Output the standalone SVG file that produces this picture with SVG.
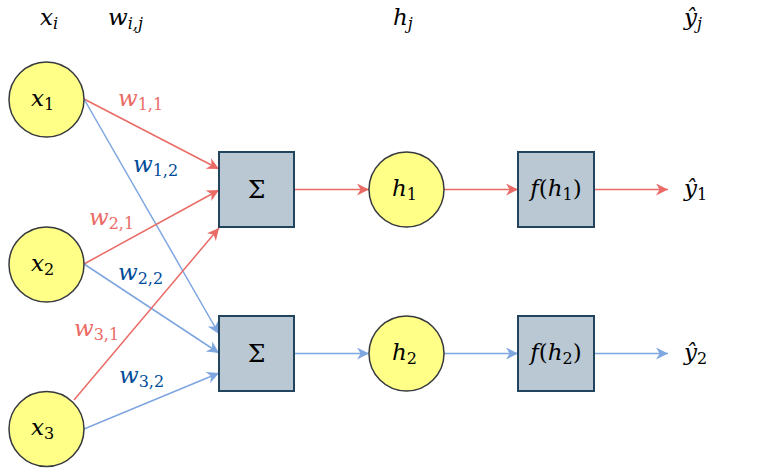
<svg xmlns="http://www.w3.org/2000/svg" width="777" height="469" viewBox="0 0 777 469">
<style>
.node{fill:#ffff88;stroke:#36393d;stroke-width:1.5}
.box{fill:#bac8d3;stroke:#23445d;stroke-width:2}
.r{stroke:#ea6b66;stroke-width:1.5;fill:none}
.b{stroke:#7ea6e0;stroke-width:1.5;fill:none}
</style>
<defs>
<marker id="ar" viewBox="0 0 10 10" refX="10" refY="5" markerWidth="12" markerHeight="12" markerUnits="userSpaceOnUse" orient="auto"><path d="M0,0 L10,5 L0,10 L3,5 Z" fill="#ea6b66"/></marker>
<marker id="ab" viewBox="0 0 10 10" refX="10" refY="5" markerWidth="12" markerHeight="12" markerUnits="userSpaceOnUse" orient="auto"><path d="M0,0 L10,5 L0,10 L3,5 Z" fill="#7ea6e0"/></marker>
</defs>

<g font-family="DejaVu Serif, serif" font-size="23">
<g id="headers">
<text x="40" y="25"><tspan font-style="italic">x</tspan><tspan font-size="16" font-style="italic" dy="4">i</tspan></text>
<text x="108" y="25"><tspan font-style="italic">w</tspan><tspan font-size="16" font-style="italic" dy="4">i,j</tspan></text>
<text x="393" y="25"><tspan font-style="italic">h</tspan><tspan font-size="16" font-style="italic" dy="4">j</tspan></text>
<text x="684" y="25"><tspan font-style="italic">ŷ</tspan><tspan font-size="16" font-style="italic" dy="4">j</tspan></text>
</g>

<g id="connectors">
<line class="r" x1="84" y1="99" x2="219" y2="169" marker-end="url(#ar)"/>
<line class="b" x1="84" y1="99" x2="219" y2="334" marker-end="url(#ab)"/>
<line class="r" x1="84" y1="264" x2="219" y2="190" marker-end="url(#ar)"/>
<line class="b" x1="84" y1="264" x2="219" y2="353" marker-end="url(#ab)"/>
<line class="r" x1="74" y1="400" x2="219" y2="228" marker-end="url(#ar)"/>
<line class="b" x1="84" y1="429" x2="219" y2="373" marker-end="url(#ab)"/>
<line class="r" x1="294" y1="189.5" x2="369" y2="189.5" marker-end="url(#ar)"/>
<line class="r" x1="444" y1="189.5" x2="518" y2="189.5" marker-end="url(#ar)"/>
<line class="r" x1="594" y1="189.5" x2="668" y2="189.5" marker-end="url(#ar)"/>
<line class="b" x1="294" y1="353.5" x2="369" y2="353.5" marker-end="url(#ab)"/>
<line class="b" x1="444" y1="353.5" x2="518" y2="353.5" marker-end="url(#ab)"/>
<line class="b" x1="594" y1="353.5" x2="668" y2="353.5" marker-end="url(#ab)"/>
<text fill="#ea6b66" x="118" y="106"><tspan font-style="italic">w</tspan><tspan font-size="16" dy="4">1,1</tspan></text>
<text fill="#004c99" x="133" y="172"><tspan font-style="italic">w</tspan><tspan font-size="16" dy="4">1,2</tspan></text>
<text fill="#ea6b66" x="89" y="225"><tspan font-style="italic">w</tspan><tspan font-size="16" dy="4">2,1</tspan></text>
<text fill="#004c99" x="118" y="280"><tspan font-style="italic">w</tspan><tspan font-size="16" dy="4">2,2</tspan></text>
<text fill="#ea6b66" x="74" y="336"><tspan font-style="italic">w</tspan><tspan font-size="16" dy="4">3,1</tspan></text>
<text fill="#004c99" x="119" y="383"><tspan font-style="italic">w</tspan><tspan font-size="16" dy="4">3,2</tspan></text>
</g>

<g id="x1"><circle class="node" cx="46.5" cy="99.5" r="37.5"/><text x="31" y="106"><tspan font-style="italic">x</tspan><tspan font-size="16" dy="4">1</tspan></text></g>
<g id="x2"><circle class="node" cx="46.5" cy="264.5" r="37.5"/><text x="31" y="271"><tspan font-style="italic">x</tspan><tspan font-size="16" dy="4">2</tspan></text></g>
<g id="x3"><circle class="node" cx="46.5" cy="429" r="37.5"/><text x="31" y="435"><tspan font-style="italic">x</tspan><tspan font-size="16" dy="4">3</tspan></text></g>

<g id="sum1"><rect class="box" x="219" y="152" width="75" height="75"/><text x="256.5" y="198" text-anchor="middle" font-size="25">Σ</text></g>
<g id="sum2"><rect class="box" x="219" y="316" width="75" height="75"/><text x="256.5" y="362" text-anchor="middle" font-size="25">Σ</text></g>

<g id="h1"><circle class="node" cx="406.5" cy="189.5" r="37.5"/><text x="392" y="196"><tspan font-style="italic">h</tspan><tspan font-size="16" dy="4">1</tspan></text></g>
<g id="h2"><circle class="node" cx="406.5" cy="353.5" r="37.5"/><text x="392" y="360"><tspan font-style="italic">h</tspan><tspan font-size="16" dy="4">2</tspan></text></g>

<g id="f1"><rect class="box" x="518" y="152" width="76" height="75"/><text x="556" y="196" text-anchor="middle"><tspan font-style="italic">f</tspan>(<tspan font-style="italic">h</tspan><tspan font-size="16" dy="4">1</tspan><tspan dy="-4">)</tspan></text></g>
<g id="f2"><rect class="box" x="518" y="316" width="76" height="75"/><text x="556" y="360" text-anchor="middle"><tspan font-style="italic">f</tspan>(<tspan font-style="italic">h</tspan><tspan font-size="16" dy="4">2</tspan><tspan dy="-4">)</tspan></text></g>

<g id="y1"><text x="684" y="196"><tspan font-style="italic">ŷ</tspan><tspan font-size="16" dy="4">1</tspan></text></g>
<g id="y2"><text x="684" y="360"><tspan font-style="italic">ŷ</tspan><tspan font-size="16" dy="4">2</tspan></text></g>
</g>
</svg>
